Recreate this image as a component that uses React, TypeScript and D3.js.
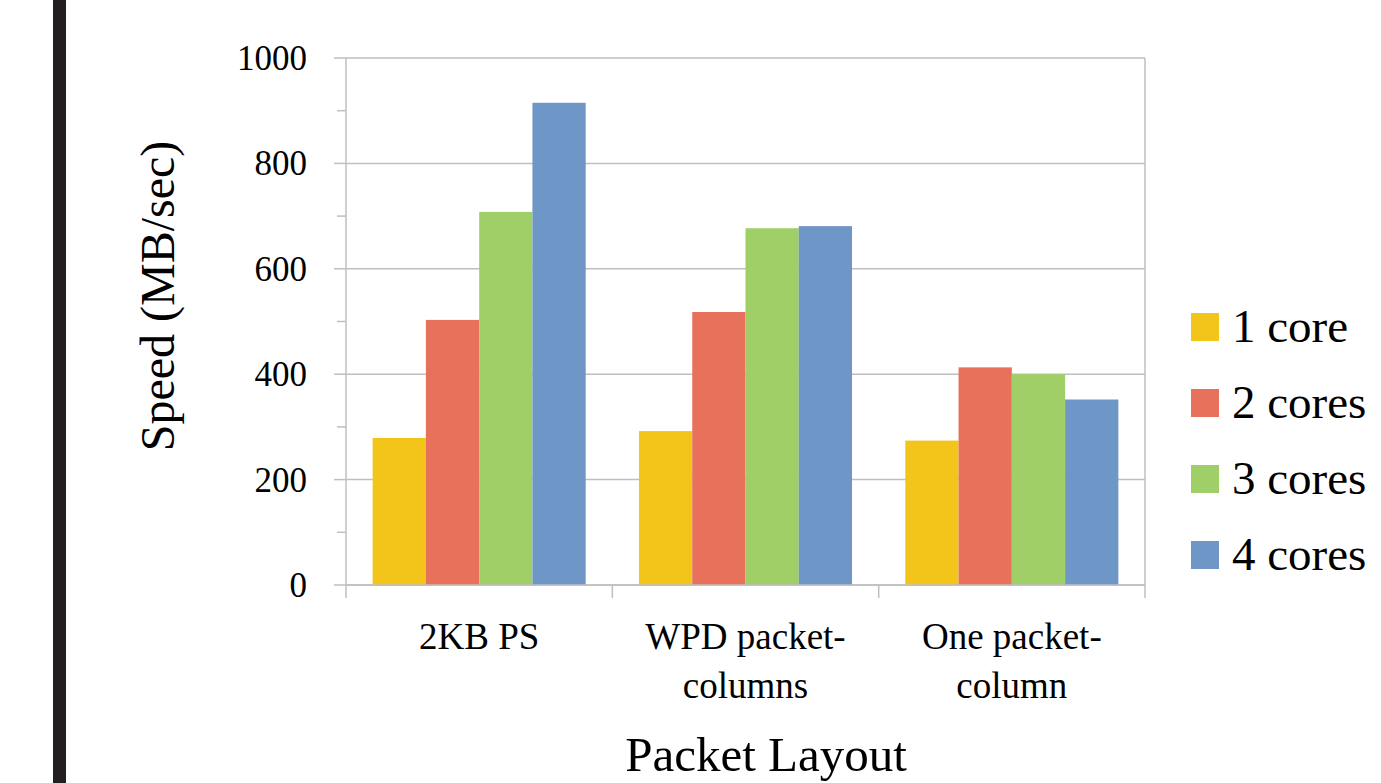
import React from "react";
import * as d3 from "d3";

const categories: string[][] = [["2KB PS"], ["WPD packet-", "columns"], ["One packet-", "column"]];
const seriesNames = ["1 core", "2 cores", "3 cores", "4 cores"];
const seriesColors = ["#F3C419", "#E8715B", "#A0CF67", "#6E97C8"];
const values1 = [279, 292, 274];
const values2 = [503, 518, 413];
const values3 = [708, 677, 400];
const values4 = [915, 681, 352];
const seriesValues = [values1, values2, values3, values4];
const yTicks = [0, 200, 400, 600, 800, 1000];
const yMinorTicks = [100, 300, 500, 700, 900];

const W = 1381;
const H = 783;
const left = 346;
const right = 1145;
const top = 58;
const bottom = 585;
const font = "'Liberation Serif', 'Times New Roman', serif";
const grid = "#BFBFBF";

export default function App() {
  const x0 = d3.scaleBand<number>().domain(d3.range(categories.length)).range([left, right]).paddingInner(0).paddingOuter(0);
  const x1 = d3.scaleBand<number>().domain(d3.range(seriesNames.length)).range([0, x0.bandwidth()]).paddingOuter(0.5).paddingInner(0);
  const y = d3.scaleLinear().domain([0, 1000]).range([bottom, top]);
  const boundaries = d3.range(categories.length + 1).map((i) => left + i * x0.bandwidth());

  return (
    <svg width={W} height={H} style={{ position: "absolute", left: 0, top: 0, background: "#fff" }}>
      <rect x={0} y={0} width={W} height={H} fill="#fff" />
      <rect x={53} y={0} width={13} height={H} fill="#231F20" />
      {/* gridlines */}
      {yTicks.map((t) => (
        <line key={"g" + t} x1={left} x2={right} y1={y(t)} y2={y(t)} stroke={grid} strokeWidth={1.5} />
      ))}
      <line x1={right} x2={right} y1={top} y2={bottom} stroke={grid} strokeWidth={1.5} />
      {/* y axis */}
      <line x1={left} x2={left} y1={top} y2={bottom} stroke={grid} strokeWidth={1.5} />
      {yTicks.map((t) => (
        <line key={"t" + t} x1={334} x2={left} y1={y(t)} y2={y(t)} stroke={grid} strokeWidth={1.5} />
      ))}
      {yMinorTicks.map((t) => (
        <line key={"m" + t} x1={337} x2={left} y1={y(t)} y2={y(t)} stroke={grid} strokeWidth={1.5} />
      ))}
      {yTicks.map((t) => (
        <text key={"l" + t} x={307} y={y(t) + 12} textAnchor="end" fontFamily={font} fontSize={35} fill="#000">
          {t}
        </text>
      ))}
      {/* bars */}
      {seriesValues.map((vals, s) =>
        vals.map((v, c) => (
          <rect
            key={s + "-" + c}
            x={(x0(c) as number) + (x1(s) as number)}
            y={y(v)}
            width={x1.bandwidth()}
            height={bottom - y(v)}
            fill={seriesColors[s]}
          />
        ))
      )}
      {/* x axis */}
      <line x1={left} x2={right} y1={bottom} y2={bottom} stroke={grid} strokeWidth={1.5} />
      {boundaries.map((b, i) => (
        <line key={"xb" + i} x1={b} x2={b} y1={bottom} y2={598} stroke={grid} strokeWidth={1.5} />
      ))}
      {categories.map((lines, c) => (
        <text key={"c" + c} textAnchor="middle" fontFamily={font} fontSize={37} fill="#000">
          {lines.map((ln, k) => (
            <tspan key={k} x={(x0(c) as number) + x0.bandwidth() / 2} y={649 + k * 49}>
              {ln}
            </tspan>
          ))}
        </text>
      ))}
      {/* axis titles */}
      <text x={766} y={771} textAnchor="middle" fontFamily={font} fontSize={49} fill="#000">
        Packet Layout
      </text>
      <text
        transform={`translate(174, 296) rotate(-90)`}
        textAnchor="middle"
        fontFamily={font}
        fontSize={48}
        fill="#000"
      >
        Speed (MB/sec)
      </text>
      {/* legend */}
      {seriesNames.map((n, i) => (
        <g key={n} transform={`translate(1191, ${327 + i * 76})`}>
          <rect x={0} y={-14} width={28} height={28} fill={seriesColors[i]} />
          <text x={41} y={15} fontFamily={font} fontSize={47} fill="#000">
            {n}
          </text>
        </g>
      ))}
    </svg>
  );
}
